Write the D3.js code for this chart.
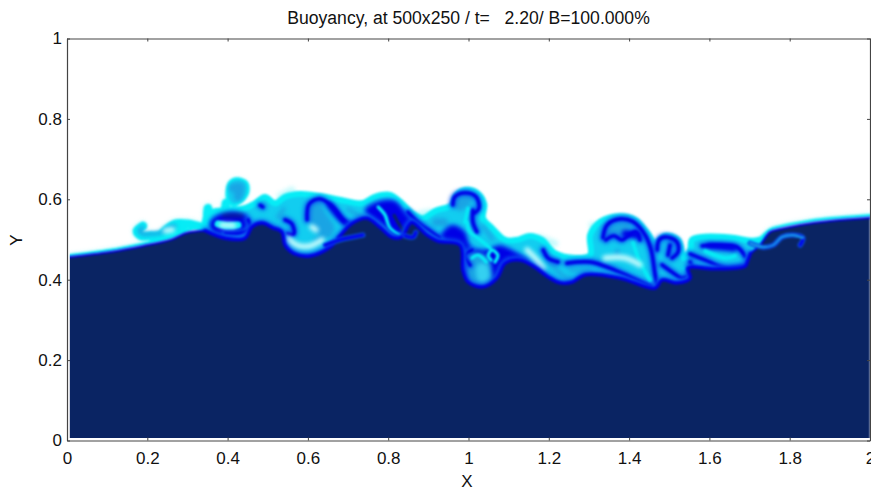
<!DOCTYPE html>
<html><head><meta charset="utf-8">
<script src="https://cdn.jsdelivr.net/npm/d3@7/dist/d3.min.js"></script>
<style>html,body{margin:0;padding:0;background:#fff;overflow:hidden}svg{display:block}text{font-family:"Liberation Sans",Arial,sans-serif;fill:#111}</style>
</head><body><svg id="c" width="871" height="488"></svg>
<script>
const titleText = "Buoyancy, at 500x250 / t=   2.20/ B=100.000%";
const xTicks = [0,0.2,0.4,0.6,0.8,1,1.2,1.4,1.6,1.8,2];
const yTicks = [0,0.2,0.4,0.6,0.8,1];
const xLabel = "X", yLabel = "Y";

// top of the undiluted fluid
const bodyEdge = [[0,.456],[.107,.469],[.189,.484],[.257,.499],[.299,.517],[.344,.522],[.394,.503],[.443,.503],[.461,.532],[.486,.541],[.513,.529],[.535,.519],[.543,.486],[.568,.464],[.605,.459],[.655,.481],[.680,.509],[.710,.540],[.747,.553],[.780,.530],[.809,.506],[.834,.506],[.849,.533],[.859,.543],[.897,.511],[.924,.496],[.979,.486],[.986,.424],[.999,.394],[1.036,.382],[1.071,.404],[1.091,.441],[1.128,.449],[1.161,.434],[1.198,.407],[1.228,.392],[1.258,.394],[1.290,.412],[1.377,.404],[1.465,.379],[1.482,.399],[1.519,.392],[1.552,.404],[1.547,.429],[1.609,.427],[1.689,.434],[1.695,.447],[1.702,.465],[1.726,.486],[1.751,.519],[1.776,.526],[1.826,.536],[1.900,.546],[2,.554]];
// outline of the mixed layer
const mixedLayer = [[.349,.561],[.394,.573],[.443,.578],[.468,.590],[.493,.606],[.518,.590],[.543,.606],[.580,.613],[.630,.608],[.692,.596],[.735,.590],[.767,.606],[.804,.611],[.834,.590],[.859,.566],[.887,.553],[.917,.571],[.959,.586],[.971,.611],[.991,.623],[1.021,.616],[1.039,.588],[1.036,.553],[1.058,.529],[1.091,.499],[1.121,.499],[1.153,.509],[1.183,.499],[1.215,.466],[1.265,.454],[1.303,.461],[1.303,.511],[1.328,.544],[1.377,.558],[1.415,.549],[1.447,.514],[1.465,.491],[1.489,.509],[1.522,.499],[1.537,.454],[1.552,.474],[1.557,.500],[1.589,.507],[1.651,.505],[1.709,.497],[1.734,.501],[1.760,.505],[1.760,.460],[1.328,.325],[.580,.350],[.356,.486]];
const mushroom = [[.399,.623],[.406,.643],[.423,.651],[.446,.643],[.451,.621],[.438,.598],[.413,.586],[.401,.598]];
const swirlPatch = [[.356,.544],[.386,.566],[.431,.568],[.456,.553],[.458,.528],[.438,.509],[.394,.504],[.361,.516]];
const plumePatch = [[.742,.573],[.780,.596],[.817,.596],[.842,.568],[.874,.518],[.829,.499],[.792,.529]];
const centerPatch = [[.929,.504],[.959,.536],[.991,.519],[1.004,.486],[1.041,.474],[1.078,.486],[1.108,.474],[1.153,.444],[1.128,.444],[1.091,.429],[1.073,.399],[1.029,.374],[.986,.394],[.974,.474]];

const rimCurves = [
 [[0,.459],[.107,.473],[.189,.489],[.257,.504],[.299,.523],[.344,.535]],
 [[1.72,.495],[1.751,.524],[1.776,.532],[1.826,.542],[1.900,.552],[2,.560]]];
const cyanCurves = [
 [[.189,.534],[.174,.521],[.184,.509],[.207,.509],[.232,.511],[.249,.526],[.269,.539],[.301,.539],[.339,.531],[.369,.534]],
 [[.351,.578],[.351,.553],[.369,.548]],
 [[.396,.591],[.391,.571],[.376,.561]],
 [[.215,.503],[.250,.512],[.290,.525]]];
const tealWide = [
 [[.413,.628],[.431,.631],[.426,.606]],
 [[.613,.578],[.625,.553],[.643,.528]],
 [[.979,.586],[.994,.598]],
 [[.919,.543],[.939,.543]],
 [[1.352,.519],[1.390,.529]],
 [[1.024,.434],[1.029,.405]]];
const tealThin = [
 [[.189,.530],[.180,.521],[.190,.513],[.207,.514],[.232,.516],[.252,.529],[.269,.534]],
 [[.655,.511],[.618,.499]],
 [[.700,.575],[.735,.555]],
 [[.540,.575],[.525,.555]],
 [[1.198,.444],[1.215,.429],[1.240,.407],[1.253,.404]],
 [[1.253,.424],[1.303,.424]],
 [[1.372,.473],[1.368,.462]],
 [[1.060,.500],[1.035,.535]]];
const blueCurves = [
 [[.451,.549],[.456,.528],[.431,.516],[.394,.516]],
 [[.543,.549],[.560,.539],[.565,.514],[.548,.514]],
 [[.481,.585],[.488,.581]],
 [[.598,.549],[.603,.588],[.630,.601],[.662,.581],[.685,.551],[.705,.533]],
 [[.849,.568],[.874,.543],[.904,.521],[.929,.504]],
 [[.961,.586],[.966,.606],[.991,.616],[1.019,.606],[1.026,.578],[1.011,.563]],
 [[1.011,.573],[1.011,.543],[1.021,.519]],
 [[1.009,.474],[.991,.461],[1.004,.436]],
 [[1.186,.474],[1.198,.454],[1.223,.444]],
 [[1.245,.441],[1.303,.444],[1.352,.429],[1.402,.407],[1.457,.382]],
 [[1.335,.504],[1.345,.536],[1.377,.551],[1.410,.544],[1.440,.511],[1.455,.474],[1.465,.411],[1.470,.389]],
 [[1.342,.499],[1.362,.509],[1.382,.499],[1.397,.509],[1.417,.519],[1.427,.499]],
 [[1.470,.474],[1.475,.499],[1.494,.506],[1.519,.494],[1.522,.469],[1.507,.454]],
 [[1.502,.486],[1.497,.461]],
 [[1.482,.437],[1.507,.419],[1.532,.404],[1.557,.419],[1.552,.444]],
 [[1.582,.484],[1.614,.486],[1.669,.481],[1.689,.458]],
 [[1.552,.464],[1.589,.449],[1.639,.429],[1.689,.434]]];
const blueWide = [
 [[.655,.585],[.690,.545],[.720,.530]],
 [[1.390,.515],[1.420,.510]],
 [[1.600,.484],[1.660,.478]]];
const navyCap = [[[.390,.560],[.435,.560]]];
const overBodyBlue = [
 [[.737,.511],[.680,.499],[.643,.486]],
 [[.842,.509],[.862,.506],[.869,.518]],
 [[1.701,.491],[1.734,.481],[1.759,.486],[1.781,.506],[1.808,.511],[1.833,.504],[1.826,.486]]];
const navyStrips = [[[.815,.560],[.824,.543],[.842,.516]]];
const brightCurves = [
 [[.775,.581],[.792,.561],[.804,.529],[.829,.511]],
 [[1.009,.454],[1.024,.461],[1.044,.444]],
 [[1.066,.444],[1.073,.461],[1.058,.474],[1.049,.459],[1.056,.449]],
 [[.996,.543],[1.004,.519],[1.029,.499],[1.054,.479]],
 [[.999,.578],[.991,.543]],
 [[1.410,.491],[1.427,.444],[1.452,.399]],
 [[1.589,.471],[1.639,.454],[1.664,.459]],
 [[1.537,.429],[1.539,.427]]];
const swirlCore = [[.376,.539],[.401,.534],[.426,.536]];
const paleCurves = [
 [[.385,.536],[.415,.535]],
 [[.550,.503],[.573,.486],[.605,.484],[.635,.499]],
 [[1.340,.454],[1.390,.454],[1.427,.437]],
 [[1.146,.474],[1.166,.454],[1.186,.429]],
 [[.245,.522],[.262,.524]],
 [[.610,.531],[.620,.524]]];
const fringeCurves = [
 [[.531,.608],[.560,.623]],
 [[.872,.561],[.904,.568]],
 [[1.308,.536],[1.323,.486]],
 [[1.175,.505],[1.215,.490]]];
const tendrilCore = [[1.701,.491],[1.734,.481],[1.759,.486],[1.781,.506],[1.808,.511],[1.833,.504]];
const lobeCore = [[1.034,.425],[1.036,.408]];

const NAVY="#0a2463", BLUE="#0000e6", CYAN="#06ecf6", MIX="#12cdf0", TEAL="#1aa4e4", SOFT="#0a5cf0", PALE="#c4fafc";
const x=d3.scaleLinear().domain([0,2]).range([67,870]);
const y=d3.scaleLinear().domain([0,1]).range([440.5,38.5]);
const svg=d3.select("#c");
const defs=svg.append("defs");
function blur(id,s){defs.append("filter").attr("id",id).attr("x","-10%").attr("y","-50%").attr("width","120%").attr("height","200%").attr("color-interpolation-filters","sRGB")
 .append("feGaussianBlur").attr("stdDeviation",s);}
blur("soft",1); blur("wide",1.9); blur("halo",2.2);
defs.append("clipPath").attr("id","field").append("rect")
 .attr("x",x(0.007)).attr("y",y(1)).attr("width",x(2)-x(0.007)).attr("height",y(0.006)-y(1));

const curve=d3.line().x(d=>x(d[0])).y(d=>y(d[1])).curve(d3.curveCatmullRom.alpha(0.5));
const loop=d3.line().x(d=>x(d[0])).y(d=>y(d[1])).curve(d3.curveCatmullRomClosed.alpha(0.5));
const plot=svg.append("g").attr("clip-path","url(#field)");
let g=null;
function layer(f){g=plot.append("g").attr("filter",`url(#${f})`);}
function strokes(list,color,w){list.forEach(p=>g.append("path").attr("d",curve(p)).attr("fill","none").attr("stroke",color).attr("stroke-width",w).attr("stroke-linecap","round").attr("stroke-linejoin","round"));}
function outlined(p,color,edge,w){g.append("path").attr("d",loop(p)).attr("fill",color).attr("stroke",edge).attr("stroke-width",w);}
const midEdge=bodyEdge.filter(d=>d[0]>.34&&d[0]<1.71);
const sideEdges=[bodyEdge.filter(d=>d[0]<=.35),bodyEdge.filter(d=>d[0]>=1.70)];

layer("halo");
outlined(mixedLayer,PALE,PALE,2); outlined(mushroom,PALE,PALE,2);
strokes(cyanCurves,PALE,10); strokes(rimCurves,PALE,4.5); strokes(fringeCurves,PALE,7);

layer("soft");
outlined(mixedLayer,MIX,CYAN,6);
outlined(mushroom,MIX,CYAN,3);
strokes(rimCurves,CYAN,3);
strokes(cyanCurves,CYAN,8.5);

layer("wide");
outlined(swirlPatch,BLUE,SOFT,2);
outlined(plumePatch,BLUE,SOFT,2);
outlined(centerPatch,BLUE,SOFT,2);
strokes(tealWide.slice(0,1),TEAL,9);
strokes(tealWide.slice(1,2),TEAL,19);
strokes(tealWide.slice(2,3),TEAL,12);
strokes(tealWide.slice(3,4),TEAL,8);
strokes(tealWide.slice(4,5),TEAL,11);
strokes(tealWide.slice(5),TEAL,26);
strokes([lobeCore],"#34d0f0",13);
strokes(tealThin,TEAL,3.8);
strokes(blueCurves,SOFT,7);
strokes(blueWide,BLUE,7);
strokes(navyCap,"#0a1a90",4);

layer("soft");
strokes(blueCurves,BLUE,3.4);
strokes(navyStrips,NAVY,3.2);
strokes(brightCurves,CYAN,3.4);
strokes([swirlCore],CYAN,7);

layer("wide");
strokes(paleCurves,PALE,5.5);
strokes([midEdge],SOFT,7);

layer("soft");
const area=d3.area().x(d=>x(d[0])).y0(y(0)).y1(d=>y(d[1])).curve(d3.curveCatmullRom.alpha(0.5));
g.append("path").attr("d",area(bodyEdge)).attr("fill",NAVY);
strokes([midEdge],BLUE,3.4);
strokes(sideEdges,BLUE,2);
strokes(overBodyBlue,SOFT,5);
strokes(overBodyBlue,BLUE,3);
strokes([tendrilCore],TEAL,2.2);

// frame and axes
const frame="#444";
function dress(a){a.select(".domain").attr("stroke",frame).attr("stroke-width",1.2);a.selectAll(".tick line").attr("stroke",frame);}
const fx=d3.format("");
const ax=svg.append("g").attr("transform",`translate(0,${y(0)})`).call(d3.axisBottom(x).tickValues(xTicks).tickSize(-3).tickSizeOuter(0).tickPadding(11).tickFormat(fx)).call(dress);
svg.append("g").attr("transform",`translate(0,${y(1)})`).call(d3.axisTop(x).tickValues(xTicks).tickSize(-3).tickSizeOuter(0).tickFormat("")).call(dress);
const ay=svg.append("g").attr("transform",`translate(${x(0)},0)`).call(d3.axisLeft(y).tickValues(yTicks).tickSize(-3).tickSizeOuter(0).tickPadding(5).tickFormat(fx)).call(dress);
svg.append("g").attr("transform",`translate(${x(2)},0)`).call(d3.axisRight(y).tickValues(yTicks).tickSize(-3).tickSizeOuter(0).tickFormat("")).call(dress);
[ax,ay].forEach(a=>a.selectAll("text").attr("font-size",17).attr("fill","#111").style("font-family",'"Liberation Sans",Arial,sans-serif'));

svg.append("text").attr("x",468.5).attr("y",23.5).attr("text-anchor","middle").attr("font-size",17.6).attr("xml:space","preserve").style("white-space","pre").text(titleText);
svg.append("text").attr("x",467).attr("y",487).attr("text-anchor","middle").attr("font-size",17).text(xLabel);
svg.append("text").attr("transform","translate(22,240) rotate(-90)").attr("text-anchor","middle").attr("font-size",17).text(yLabel);
</script></body></html>
